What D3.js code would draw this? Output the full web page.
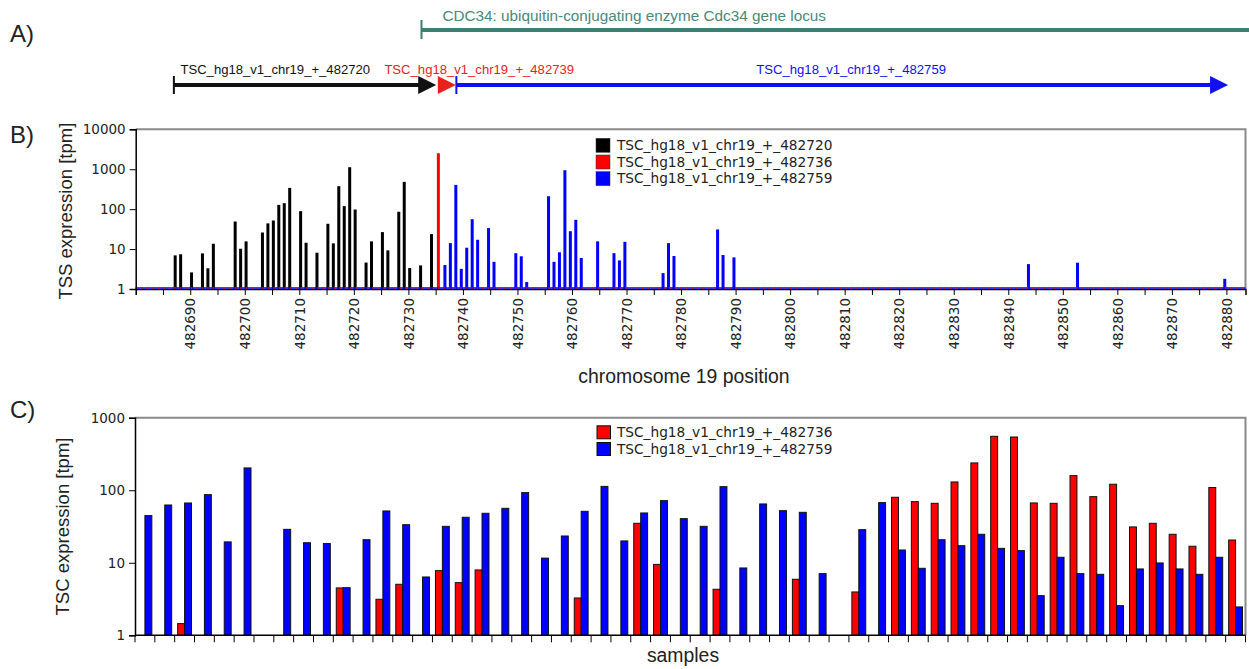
<!DOCTYPE html>
<html>
<head>
<meta charset="utf-8">
<script src="https://cdn.jsdelivr.net/npm/d3@7"></script>
<style>
  body { margin: 0; background: #fff; }
  svg { display: block; }
  .tick text { font-family: "DejaVu Sans", sans-serif; font-size: 13.5px; fill: #222; }
</style>
</head>
<body>
<svg id="fig" width="1249" height="669"></svg>
<script>
// ---- Panel A: gene locus and TSC clusters (chr19, hg18) ----
const geneLabel = "CDC34: ubiquitin-conjugating enzyme Cdc34 gene locus";
const geneStart = 482732.4;
const tscNames = ["TSC_hg18_v1_chr19_+_482720", "TSC_hg18_v1_chr19_+_482739", "TSC_hg18_v1_chr19_+_482759"];
const tscStart = [482687.0, 482735.4, 482738.8];
const tscEnd = [482735.1, 482738.7, 482880.3];

// ---- Panel B: single-TSS expression (tpm) per position ----
const seriesNames = ["TSC_hg18_v1_chr19_+_482720", "TSC_hg18_v1_chr19_+_482736", "TSC_hg18_v1_chr19_+_482759"];
const blackPos = [482688, 482689, 482691, 482693, 482694, 482695, 482699, 482700, 482701, 482704, 482705,
  482706, 482707, 482708, 482709, 482711, 482712, 482714, 482716, 482717, 482718, 482719, 482720, 482721,
  482723, 482724, 482726, 482727, 482729, 482730, 482731, 482733, 482735];
const blackVal = [6.96, 7.4, 2.6, 7.8, 3.3, 13.6, 49, 10.2, 15.6, 26, 44,
  52, 128, 141, 341, 89, 14.4, 8.1, 43, 13.9, 376, 119, 1122, 98,
  4.6, 15.6, 26.6, 9.3, 86, 482, 3.35, 3.9, 23.7];
const redPos = [482736];
const redVal = [2512];
const bluePos = [482737, 482738, 482739, 482740, 482741, 482742, 482743, 482745, 482746, 482750, 482751,
  482752, 482756, 482757, 482758, 482759, 482760, 482761, 482762, 482765, 482768, 482769, 482770, 482777,
  482778, 482779, 482787, 482788, 482790, 482844, 482853, 482880];
const blueVal = [3.98, 14.1, 405, 3.2, 10.8, 56, 17.1, 33.5, 4.8, 7.9, 6.6,
  1.5, 211, 4.8, 8.3, 944, 28, 54, 6.0, 15.6, 7.9, 5.2, 15.2, 2.5,
  14.1, 6.7, 31, 7.1, 6.2, 4.2, 4.55, 1.8];
const yTicksB = [1, 10, 100, 1000, 10000];

// ---- Panel C: TSC expression (tpm) per sample ----
const tscRed = [null, null, 1.45, null, null, null, null, null, null, null, 4.5, null, 3.14, 5.05,
  null, 7.79, 5.32, 7.96, null, null, null, null, 3.27, null, null, 35, 9.5, null,
  null, 4.31, null, null, null, 5.92, null, null, 3.96, null, 80, 69.6, 66, 130,
  238, 554, 542, 66.8, 66, 159, 81.6, 121, 31.2, 35, 24.7, 16.9, 109, 20.6];
const tscBlue = [44.7, 62.6, 66.7, 87, 19.4, 203, null, 28.9, 18.9, 18.4, 4.54, 20.8, 51.8, 33.5,
  6.37, 31.8, 42.4, 48.1, 56.3, 92.7, 11.6, 23.4, 51.2, 113, 20.0, 48.6, 71.9, 40.6,
  31.8, 112, 8.48, 64.7, 52.3, 49.6, 7.08, null, 28.6, 67.5, 15.0, 8.39, 20.8, 17.2,
  24.7, 15.8, 14.7, 3.52, 11.9, 7.08, 6.93, 2.56, 8.22, 9.94, 8.22, 6.93, 11.9, 2.46];
const samples = tscBlue.map((_, i) => "sample" + (i + 1));
const yTicksC = [1, 10, 100, 1000];

const RED = "#ff0000", BLUE = "#0000ff", BLACK = "#000000";
const svg = d3.select("#fig");

// shared genomic x scale (panels A and B)
const B = { left: 135.7, right: 1245.5, top: 129.3, bottom: 289 };
const x = d3.scaleLinear().domain([482680, 482883.5]).range([B.left, B.right]);
const yB = d3.scaleLog().domain([1, 10000]).range([B.bottom, B.top]);

// panel letters
[["A)", 42], ["B)", 143], ["C)", 418]].forEach(([t, y]) => {
  svg.append("text").attr("x", 10).attr("y", y).text(t)
    .attr("font-family", "Liberation Sans, Arial, sans-serif").attr("font-size", 24).attr("fill", "#222");
});

// ---------------- Panel A ----------------
const teal = "#3e7f73";
const gx = x(geneStart);
svg.append("line").attr("x1", gx).attr("x2", 1249).attr("y1", 30).attr("y2", 30)
  .attr("stroke", teal).attr("stroke-width", 4);
svg.append("line").attr("x1", gx).attr("x2", gx).attr("y1", 20).attr("y2", 39)
  .attr("stroke", teal).attr("stroke-width", 2);
svg.append("text").attr("x", gx + 21).attr("y", 21).text(geneLabel)
  .attr("font-family", "Liberation Sans, Arial, sans-serif").attr("font-size", 15.3).attr("fill", "#4a887c");

const arrowColors = ["#111111", "#e8211d", "#1010f0"];
const labelAnchor = [482688.2, 482725.6, 482793.8];
const ay = 85, head = 18, half = 9;
tscNames.forEach((name, i) => {
  const x0 = x(tscStart[i]), x1 = x(tscEnd[i]);
  const g = svg.append("g");
  if (x1 - x0 > head + 1) {
    g.append("line").attr("x1", x0).attr("x2", x1 - head + 1).attr("y1", ay).attr("y2", ay)
      .attr("stroke", arrowColors[i]).attr("stroke-width", 4);
    g.append("line").attr("x1", x0).attr("x2", x0).attr("y1", ay - 9).attr("y2", ay + 9)
      .attr("stroke", arrowColors[i]).attr("stroke-width", 2);
  }
  g.append("path")
    .attr("d", `M${x1 - head},${ay - half}L${x1},${ay}L${x1 - head},${ay + half}Z`)
    .attr("fill", arrowColors[i]);
  svg.append("text").attr("x", x(labelAnchor[i])).attr("y", 74).text(name)
    .attr("font-family", "Liberation Sans, Arial, sans-serif").attr("font-size", 13.1)
    .attr("fill", arrowColors[i]);
});

// ---------------- Panel B ----------------
const gB = svg.append("g");
const barW = 3;
const seriesB = [
  { pos: blackPos, val: blackVal, color: BLACK, off: -0.76 },
  { pos: redPos, val: redVal, color: RED, off: -0.5 },
  { pos: bluePos, val: blueVal, color: BLUE, off: -0.3 }
];

// frame: gray top/right
gB.append("path")
  .attr("d", `M${B.left},${B.top}H${B.right}V${B.bottom}`)
  .attr("fill", "none").attr("stroke", "#8a8a8a").attr("stroke-width", 2);

seriesB.forEach(s => {
  gB.append("g").selectAll("rect").data(s.pos.map((p, i) => ({ p, v: s.val[i] })))
    .join("rect")
    .attr("x", d => x(d.p + s.off) - barW / 2)
    .attr("width", barW)
    .attr("y", d => yB(d.v))
    .attr("height", d => yB(1) - yB(d.v))
    .attr("fill", s.color);
});

// axes
const xTicks = d3.range(482685, 482881, 5);
const axB = gB.append("g").attr("transform", `translate(0,${B.bottom})`)
  .call(d3.axisBottom(x).tickValues(xTicks).tickSize(6)
    .tickFormat(d => d % 10 === 0 ? d3.format("d")(d) : ""));
axB.selectAll(".tick text")
  .attr("transform", "rotate(-90)")
  .attr("x", -9).attr("y", 0).attr("dy", "0.35em")
  .attr("text-anchor", "end");
axB.select(".domain").attr("stroke-width", 1.5);

// zero-level line of the three series
gB.append("line").attr("x1", B.left).attr("x2", B.right).attr("y1", B.bottom - 1).attr("y2", B.bottom - 1)
  .attr("stroke", BLUE).attr("stroke-width", 1.5);
gB.append("line").attr("x1", B.left).attr("x2", B.right).attr("y1", B.bottom - 1).attr("y2", B.bottom - 1)
  .attr("stroke", RED).attr("stroke-width", 1.5).attr("stroke-dasharray", "1.5,4");

const ayB = gB.append("g").attr("transform", `translate(${B.left},0)`)
  .call(d3.axisLeft(yB).tickValues(yTicksB).tickSize(6).tickPadding(4).tickFormat(d3.format("d")));
ayB.select(".domain").attr("stroke-width", 1.5);

// legend
const legB = gB.append("g");
seriesNames.forEach((n, i) => {
  const cy = 145.3 + i * 16.7;
  legB.append("rect").attr("x", 596).attr("y", cy - 7).attr("width", 14).attr("height", 14)
    .attr("fill", [BLACK, RED, BLUE][i]).attr("stroke", "#333").attr("stroke-width", 0.5);
  legB.append("text").attr("x", 617).attr("y", cy).attr("dy", "0.35em").text(n)
    .attr("font-family", "DejaVu Sans, sans-serif").attr("font-size", 13.7).attr("fill", "#222");
});

svg.append("text").attr("transform", `translate(72,${(B.top + B.bottom) / 2 + 2}) rotate(-90)`)
  .attr("text-anchor", "middle").text("TSS expression [tpm]")
  .attr("font-family", "Liberation Sans, Arial, sans-serif").attr("font-size", 18.5).attr("fill", "#222");
svg.append("text").attr("x", 684).attr("y", 383).attr("text-anchor", "middle").text("chromosome 19 position")
  .attr("font-family", "Liberation Sans, Arial, sans-serif").attr("font-size", 19.4).attr("fill", "#222");

// ---------------- Panel C ----------------
const C = { left: 135, right: 1245.5, top: 417.7, bottom: 635.3 };
const xC = d3.scaleBand().domain(samples).range([C.left, C.right]);
const xSub = d3.scaleBand().domain(["red", "blue"]).range([0, xC.bandwidth()]).paddingOuter(0.43);
const yC = d3.scaleLog().domain([1, 1000]).range([C.bottom, C.top]);
const gC = svg.append("g");

gC.append("path")
  .attr("d", `M${C.left},${C.top}H${C.right}V${C.bottom}`)
  .attr("fill", "none").attr("stroke", "#8a8a8a").attr("stroke-width", 2);

[["red", tscRed, RED], ["blue", tscBlue, BLUE]].forEach(([key, vals, col]) => {
  gC.append("g").selectAll("rect")
    .data(samples.map((s, i) => ({ s, v: vals[i] })).filter(d => d.v != null && d.v > 1))
    .join("rect")
    .attr("x", d => xC(d.s) + xSub(key))
    .attr("width", xSub.bandwidth())
    .attr("y", d => yC(d.v))
    .attr("height", d => yC(1) - yC(d.v))
    .attr("fill", col).attr("stroke", "#111").attr("stroke-width", 1);
});

// x axis with ticks at sample boundaries
gC.append("line").attr("x1", C.left).attr("x2", C.right).attr("y1", C.bottom).attr("y2", C.bottom)
  .attr("stroke", "#000").attr("stroke-width", 1.5);
const edges = samples.map(s => xC(s)).concat([C.right]);
gC.append("g").selectAll("line").data(edges).join("line")
  .attr("x1", d => d).attr("x2", d => d).attr("y1", C.bottom).attr("y2", C.bottom + 7)
  .attr("stroke", "#000").attr("stroke-width", 1);

const ayC = gC.append("g").attr("transform", `translate(${C.left},0)`)
  .call(d3.axisLeft(yC).tickValues(yTicksC).tickSize(6).tickPadding(4).tickFormat(d3.format("d")));
ayC.select(".domain").attr("stroke-width", 1.5);

const legC = gC.append("g");
[seriesNames[1], seriesNames[2]].forEach((n, i) => {
  const cy = 432.3 + i * 16.7;
  legC.append("rect").attr("x", 597).attr("y", cy - 6.5).attr("width", 13.5).attr("height", 13)
    .attr("fill", [RED, BLUE][i]).attr("stroke", "#111").attr("stroke-width", 1);
  legC.append("text").attr("x", 617).attr("y", cy).attr("dy", "0.35em").text(n)
    .attr("font-family", "DejaVu Sans, sans-serif").attr("font-size", 13.7).attr("fill", "#222");
});

svg.append("text").attr("transform", `translate(69,${(C.top + C.bottom) / 2}) rotate(-90)`)
  .attr("text-anchor", "middle").text("TSC expression [tpm]")
  .attr("font-family", "Liberation Sans, Arial, sans-serif").attr("font-size", 18.5).attr("fill", "#222");
svg.append("text").attr("x", 683).attr("y", 662).attr("text-anchor", "middle").text("samples")
  .attr("font-family", "Liberation Sans, Arial, sans-serif").attr("font-size", 19.4).attr("fill", "#222");
</script>
</body>
</html>
